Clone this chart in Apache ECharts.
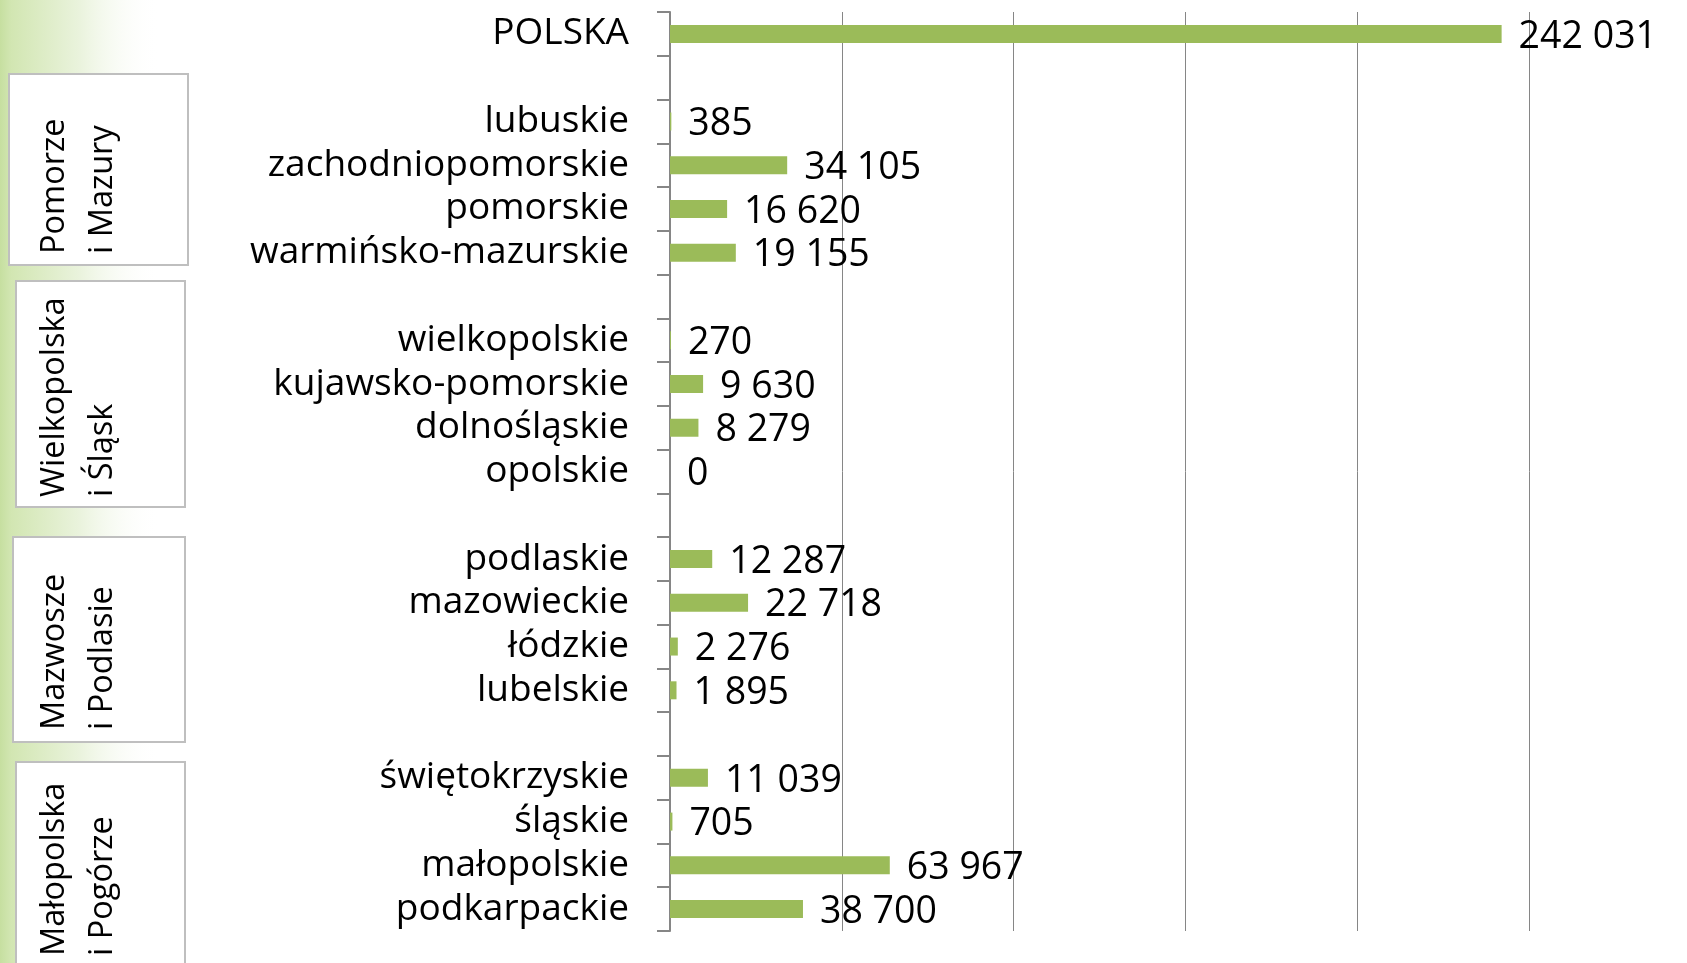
<!DOCTYPE html>
<html>
<head>
<meta charset="utf-8">
<script src="https://cdn.jsdelivr.net/npm/echarts@6/dist/echarts.min.js"></script>
<style>
  html, body { margin: 0; padding: 0; background: #fff; }
  #chart { width: 1687px; height: 963px; }
</style>
</head>
<body>
<div id="chart"></div>
<script>
// kategorie (puste pozycje = odstępy między grupami)
const regions = [
  'POLSKA', ' ',
  'lubuskie', 'zachodniopomorskie', 'pomorskie', 'warmińsko-mazurskie', '  ',
  'wielkopolskie', 'kujawsko-pomorskie', 'dolnośląskie', 'opolskie', '   ',
  'podlaskie', 'mazowieckie', 'łódzkie', 'lubelskie', '    ',
  'świętokrzyskie', 'śląskie', 'małopolskie', 'podkarpackie'
]
const values = [
  242031, null,
  385, 34105, 16620, 19155, null,
  270, 9630, 8279, 0, null,
  12287, 22718, 2276, 1895, null,
  11039, 705, 63967, 38700
]
const groupNames = [
  'Pomorze\ni Mazury',
  'Wielkopolska\ni Śląsk',
  'Mazwosze\ni Podlasie',
  'Małopolska\ni Pogórze'
]

const chart = echarts.init(document.getElementById('chart'))

// ramki z nazwami grup po lewej
const boxes = [
  { x: 9, y: 74, w: 179, h: 191, ty: 254 },
  { x: 16, y: 281, w: 169, h: 226, ty: 497 },
  { x: 13, y: 537, w: 172, h: 205, ty: 730 },
  { x: 16, y: 762, w: 169, h: 215, ty: 956 }
]
const graphics = [
  {
    type: 'rect',
    z: -10,
    shape: { x: 0, y: 0, width: 160, height: 963 },
    style: {
      fill: {
        type: 'linear', x: 0, y: 0, x2: 1, y2: 0,
        colorStops: [
          { offset: 0, color: '#C6DFA0' },
          { offset: 0.07, color: '#D2E6B2' },
          { offset: 0.5, color: '#EAF3DD' },
          { offset: 1, color: 'rgba(255,255,255,0)' }
        ]
      }
    }
  }
]
boxes.forEach((b, i) => {
  graphics.push({
    type: 'rect',
    z: 1,
    shape: { x: b.x, y: b.y, width: b.w, height: b.h },
    style: { fill: '#fff', stroke: '#BFBFBF', lineWidth: 2 }
  })
  graphics.push({
    type: 'text',
    z: 2,
    x: 31,
    y: b.ty,
    rotation: Math.PI / 2,
    style: {
      text: groupNames[i],
      font: '32.5px "Open Sans"',
      fill: '#000',
      lineHeight: 48,
      align: 'left',
      verticalAlign: 'top'
    }
  })
})

const fmt = v => String(v).replace(/\B(?=(\d{3})+(?!\d))/g, ' ')

const option = {
  backgroundColor: '#fff',
  animation: false,
  graphic: graphics,
  grid: {
    left: 670,
    right: 158,
    top: 12,
    bottom: 32,
    containLabel: false
  },
  xAxis: {
    type: 'value',
    min: 0,
    max: 250000,
    interval: 50000,
    axisLine: { show: false },
    axisTick: { show: false },
    axisLabel: { show: false },
    splitLine: { show: true, lineStyle: { color: '#868686', width: 1 } }
  },
  yAxis: {
    type: 'category',
    inverse: true,
    data: regions,
    axisLine: { show: true, lineStyle: { color: '#868686', width: 2 } },
    axisTick: { show: true, interval: 0, length: 13, lineStyle: { color: '#868686', width: 2 } },
    axisLabel: {
      interval: 0,
      margin: 41,
      color: '#000',
      fontSize: 37,
      fontFamily: 'Open Sans'
    }
  },
  series: [
    {
      type: 'bar',
      data: values,
      barWidth: 18,
      itemStyle: { color: '#9BBB59' },
      label: {
        show: true,
        position: 'right',
        distance: 17,
        offset: [0, 3],
        color: '#000',
        fontSize: 37.5,
        fontFamily: 'Open Sans',
        formatter: p => fmt(p.value)
      }
    }
  ]
}
chart.setOption(option)
</script>
</body>
</html>
